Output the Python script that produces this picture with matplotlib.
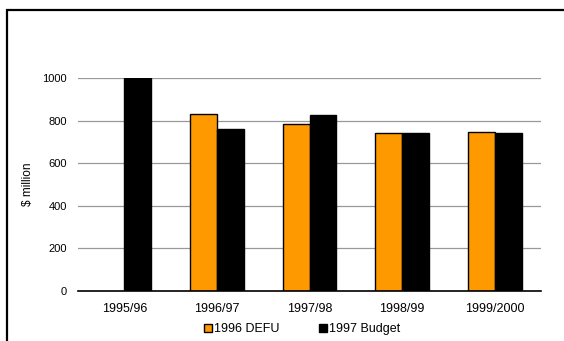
import matplotlib
matplotlib.use("Agg")
import matplotlib.pyplot as plt
from matplotlib.patches import Rectangle
import numpy as np

plt.rcParams['font.family'] = ['Liberation Sans', 'DejaVu Sans']

categories = ["1995/96", "1996/97", "1997/98", "1998/99", "1999/2000"]
defu_1996 = [np.nan, 830, 785, 742, 747]
budget_1997 = [1000, 763, 829, 745, 745]
yticks = [0, 200, 400, 600, 800, 1000]

fig = plt.figure(figsize=(5.64, 3.41), dpi=100)
ax = fig.add_axes([78 / 564, 1 - 291 / 341, (541 - 78) / 564, (291 - 78.3) / 341])

x = np.arange(len(categories))
w = 0.29
ax.bar(x - w / 2, defu_1996, width=w, color="#FF9900", edgecolor="black",
       linewidth=1.0, label="1996 DEFU", zorder=3)
ax.bar(x + w / 2, budget_1997, width=w, color="black", edgecolor="black",
       linewidth=1.0, label="1997 Budget", zorder=3)

ax.set_xlim(-0.5, len(categories) - 0.5)
ax.set_ylim(0, 1000)
ax.set_yticks(yticks)
ax.set_yticklabels([str(v) for v in yticks], fontsize=8)
ax.set_xticks(x)
ax.set_xticklabels(categories, fontsize=9)
ax.tick_params(axis="both", length=0)
ax.tick_params(axis="y", pad=8)
ax.tick_params(axis="x", pad=9)
ax.yaxis.grid(True, color="#999999", linewidth=0.9, zorder=0)
ax.set_axisbelow(True)
for s in ["top", "right", "left"]:
    ax.spines[s].set_visible(False)
ax.spines["bottom"].set_linewidth(1.2)
ax.spines["bottom"].set_zorder(4)

ax.set_ylabel("$ million", fontsize=8.5)
ax.yaxis.set_label_coords(-44 / 463, 0.5)

leg = fig.legend(loc="center", bbox_to_anchor=(302 / 564, 1 - 329 / 341), ncol=2,
                 frameon=False, fontsize=9, handlelength=0.6, handleheight=0.6,
                 handletextpad=0.15, columnspacing=3.2, borderaxespad=0)

# outer frame around the chart
fig.patches.append(Rectangle((7 / 564, -0.05), 1.1, 1 - 10 / 341 + 0.05,
                             transform=fig.transFigure, fill=False,
                             edgecolor="black", linewidth=1.6))

fig.savefig("out.png", dpi=100)
